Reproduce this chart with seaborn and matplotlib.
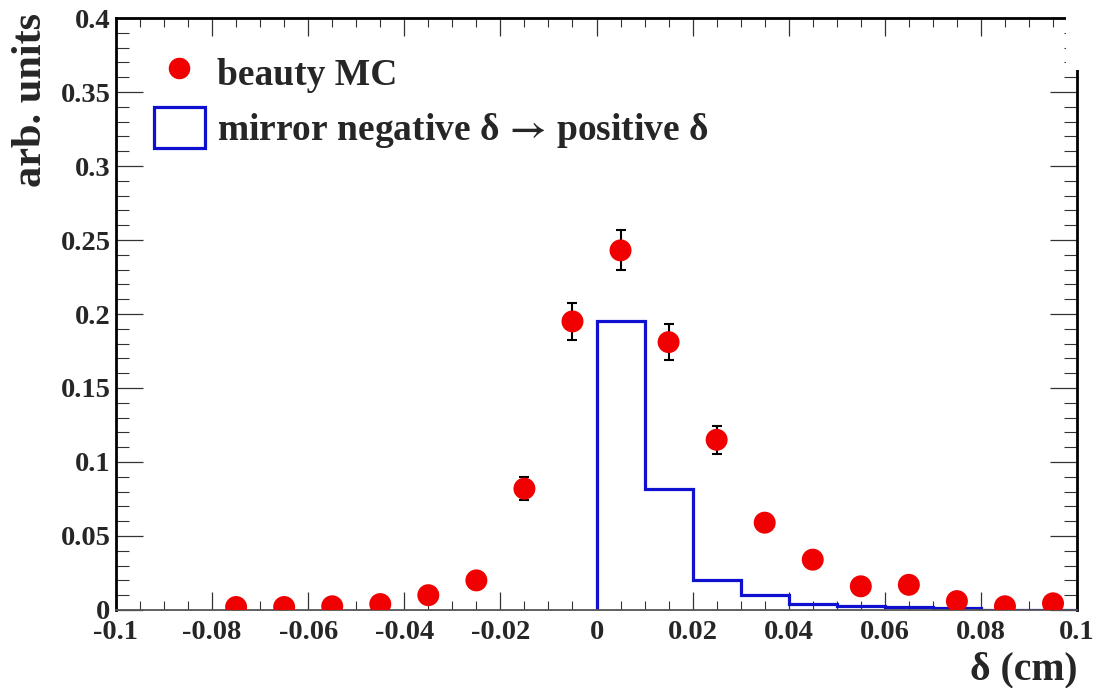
import numpy as np
import pandas as pd
import matplotlib
matplotlib.use("Agg")
import matplotlib.pyplot as plt
import seaborn as sns
from matplotlib.lines import Line2D
from matplotlib.patches import Patch, Rectangle

# ---- data ----
mc_x = [-0.075, -0.065, -0.055, -0.045, -0.035, -0.025, -0.015, -0.005,
        0.005, 0.015, 0.025, 0.035, 0.045, 0.055, 0.065, 0.075, 0.085, 0.095]
mc_y = [0.002, 0.002, 0.0025, 0.004, 0.010, 0.020, 0.082, 0.195,
        0.243, 0.181, 0.115, 0.059, 0.034, 0.016, 0.017, 0.006, 0.0025, 0.0045]
mc_err = [0.001, 0.001, 0.001, 0.0015, 0.002, 0.003, 0.008, 0.0125,
          0.0135, 0.012, 0.0095, 0.005, 0.004, 0.003, 0.003, 0.002, 0.001, 0.002]

mirror_edges = [0.0, 0.01, 0.02, 0.03, 0.04, 0.05, 0.06, 0.07, 0.08, 0.09, 0.10]
mirror_vals = [0.195, 0.082, 0.020, 0.010, 0.004, 0.0027, 0.002, 0.0015, 0.0, 0.0]

xticks = [-0.1, -0.08, -0.06, -0.04, -0.02, 0.0, 0.02, 0.04, 0.06, 0.08, 0.1]
xtick_labels = ["-0.1", "-0.08", "-0.06", "-0.04", "-0.02", "0", "0.02", "0.04", "0.06", "0.08", "0.1"]
yticks = [0.0, 0.05, 0.1, 0.15, 0.2, 0.25, 0.3, 0.35, 0.4]
ytick_labels = ["0", "0.05", "0.1", "0.15", "0.2", "0.25", "0.3", "0.35", "0.4"]

label_mc = "beauty MC"
label_mirror = r"mirror negative δ $\!{\rightarrow}\!$ positive δ"
xlabel = "δ (cm)"
ylabel = "arb. units"

# ---- style ----
sns.set_style("ticks")
plt.rcParams["font.family"] = ["Liberation Serif", "DejaVu Serif"]
plt.rcParams["font.weight"] = "bold"
plt.rcParams["axes.unicode_minus"] = False
plt.rcParams["mathtext.fontset"] = "stix"

RED = "#f00000"
BLUE = "#1010d0"

fig = plt.figure(figsize=(10.94, 6.88), dpi=100)
ax = fig.add_axes([0.106, 0.1134, 0.8785, 0.8604])

mc_df = pd.DataFrame({"x": mc_x, "y": mc_y, "err": mc_err})

# mirrored histogram as outlined stairs (closed to the baseline at both ends)
ax.stairs(mirror_vals, mirror_edges, baseline=0, fill=False, color=BLUE,
          linewidth=2.3, zorder=2)

ax.errorbar(mc_df["x"], mc_df["y"], yerr=mc_df["err"], fmt="none", ecolor="black",
            elinewidth=1.5, capsize=3.5, capthick=1.5, zorder=3)
sns.scatterplot(data=mc_df, x="x", y="y", color=RED, s=250, edgecolor="none",
                ax=ax, zorder=4)

ax.set_xlim(-0.1, 0.1)
ax.set_ylim(0, 0.4)
ax.set_xticks(xticks)
ax.set_xticklabels(xtick_labels)
ax.set_yticks(yticks)
ax.set_yticklabels(ytick_labels)
ax.set_xticks(np.arange(-0.1, 0.1001, 0.005), minor=True)
ax.set_yticks(np.arange(0, 0.4001, 0.01), minor=True)

ax.tick_params(axis="x", which="major", direction="in", length=13, width=0.9,
               top=True, bottom=True, labelsize=20.5, pad=7, color="#333333")
ax.tick_params(axis="x", which="minor", direction="in", length=6.5, width=0.8,
               top=True, bottom=True, color="#333333")
ax.tick_params(axis="y", which="major", direction="in", length=19.5, width=0.9,
               left=True, right=True, labelsize=20.5, pad=4, color="#333333")
ax.tick_params(axis="y", which="minor", direction="in", length=9.5, width=0.8,
               left=True, right=True, color="#333333")
for lab in ax.get_xticklabels() + ax.get_yticklabels():
    lab.set_fontweight("bold")

for side in ["left", "top", "right"]:
    ax.spines[side].set_linewidth(2.0)
    ax.spines[side].set_color("black")
ax.spines["bottom"].set_linewidth(1.3)
ax.spines["bottom"].set_color("#555555")

ax.set_xlabel(xlabel, fontsize=28.5, fontweight="bold", loc="right")
ax.xaxis.set_label_coords(1.0, -0.07)
ax.set_ylabel(ylabel, fontsize=30.5, fontweight="bold", loc="top")
ax.yaxis.set_label_coords(-0.069, 1.009)

handles = [
    Line2D([], [], marker="o", linestyle="none", markersize=15.5,
           markerfacecolor=RED, markeredgecolor="none"),
    Patch(facecolor="none", edgecolor=BLUE, linewidth=2.3),
]
leg = ax.legend(handles, [label_mc, label_mirror], loc="upper left",
                bbox_to_anchor=(0.0395, 0.943), frameon=False,
                fontsize=27, handlelength=1.36, handleheight=1.31,
                handletextpad=0.32, labelspacing=0.38, borderpad=0,
                borderaxespad=0)
for t in leg.get_texts():
    t.set_fontweight("bold")

# white patch in the top-right corner, as in the reference
fig.patches.append(Rectangle((0.9744, 0.898), 0.03, 0.11, transform=fig.transFigure,
                             facecolor="white", edgecolor="none", zorder=10))

fig.savefig("out.png", dpi=100)
